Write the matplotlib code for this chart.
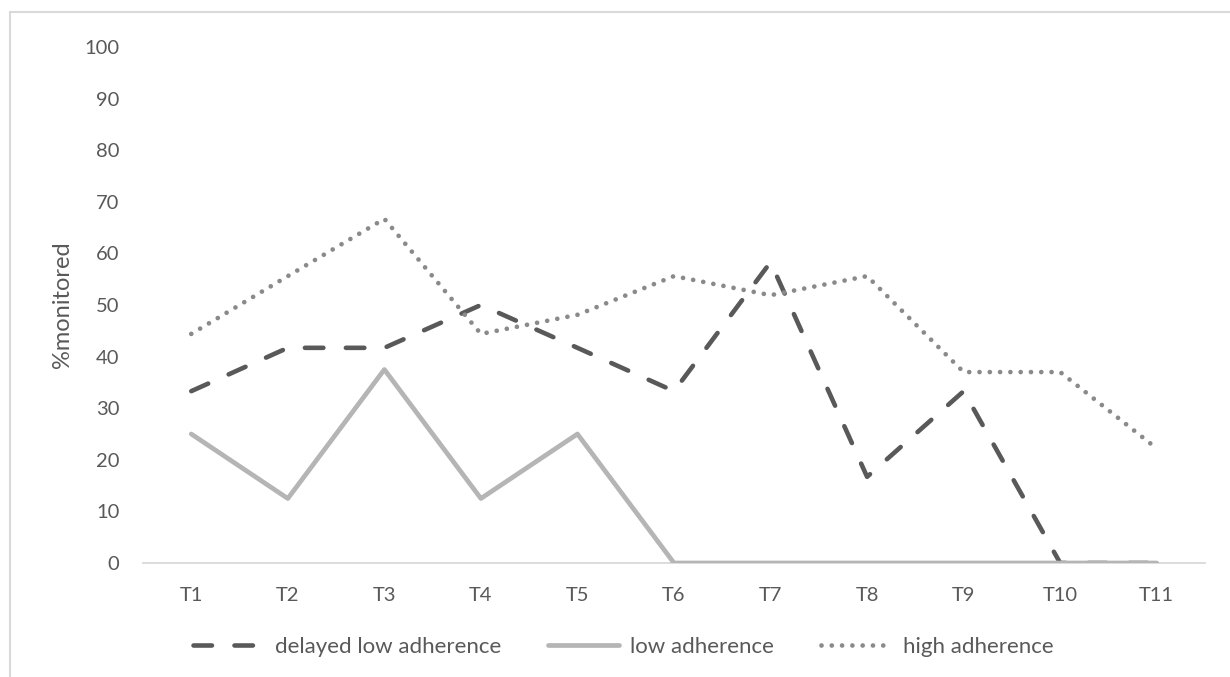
import matplotlib
matplotlib.use("Agg")
import matplotlib.pyplot as plt
from matplotlib.patches import Rectangle

plt.rcParams['font.family'] = ['Lato', 'DejaVu Sans']
plt.rcParams['lines.scale_dashes'] = False

categories = ["T1", "T2", "T3", "T4", "T5", "T6", "T7", "T8", "T9", "T10", "T11"]
delayed_low = [33.3, 41.7, 41.7, 50.0, 41.7, 33.3, 58.3, 16.7, 33.3, 0.0, 0.0]
low = [25.0, 12.5, 37.5, 12.5, 25.0, 0.0, 0.0, 0.0, 0.0, 0.0, 0.0]
high = [44.4, 55.6, 66.7, 44.4, 48.1, 55.6, 51.9, 55.6, 37.0, 37.0, 22.2]
y_ticks = list(range(0, 101, 10))

TEXT = "#595959"
W, H = 1230, 677
fig = plt.figure(figsize=(W / 100, H / 100), dpi=100)

# outer chart frame
fig.patches.append(Rectangle((10 / W, -0.01), 1.02, (H - 12) / H + 0.01,
                             transform=fig.transFigure, fill=False,
                             edgecolor="#d9d9d9", lw=1.5))

ax = fig.add_axes([143 / W, 1 - 563 / H, (1205 - 143) / W, (563 - 47) / H])
x = list(range(len(categories)))

l1, = ax.plot(x, delayed_low, color="#595959", lw=3.3, dashes=(13.3, 16.2),
              dash_capstyle="round", solid_joinstyle="round", zorder=2,
              label="delayed low adherence")
l2, = ax.plot(x, low, color="#b5b5b5", lw=3.4, solid_capstyle="round",
              solid_joinstyle="round", zorder=3, label="low adherence")
l3, = ax.plot(x, high, color="#8a8a8a", lw=3.4, dashes=(0.01, 7.4),
              dash_capstyle="round", zorder=4, label="high adherence")

ax.set_xlim(-0.5, len(categories) - 0.5)
ax.set_ylim(0, 100)
ax.set_yticks(y_ticks)
ax.set_xticks(x)
ax.set_xticklabels(categories)
for s in ["top", "right", "left"]:
    ax.spines[s].set_visible(False)
ax.spines["bottom"].set_color("#d9d9d9")
ax.spines["bottom"].set_linewidth(1.3)
ax.spines["bottom"].set_zorder(1)
ax.tick_params(axis="both", length=0, labelsize=14.5, labelcolor=TEXT)
ax.tick_params(axis="y", pad=17)
ax.tick_params(axis="x", pad=17)
ax.set_ylabel("%monitored", fontsize=17, color=TEXT, labelpad=8)

leg = fig.legend(handles=[l1, l2, l3], loc="center", ncol=3,
                 bbox_to_anchor=(623 / W, 1 - 647 / H), frameon=False,
                 fontsize=16, handlelength=3.2, handletextpad=0.5,
                 columnspacing=2.1)
for t in leg.get_texts():
    t.set_color(TEXT)

fig.savefig("out.png", dpi=100, facecolor="white")
